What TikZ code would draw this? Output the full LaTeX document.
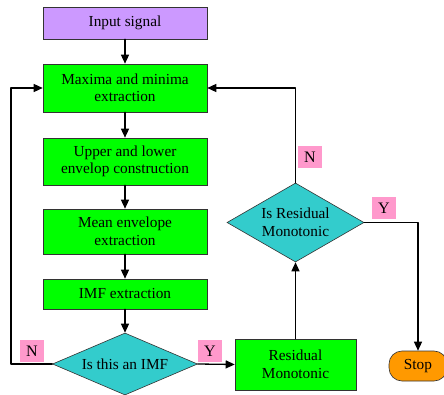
\documentclass[tikz,border=0pt]{standalone}
\usepackage{fontspec}
\setmainfont{Liberation Serif}
\usetikzlibrary{shapes.geometric,arrows.meta}

\definecolor{boxgreen}{HTML}{00FF00}
\definecolor{boxpurple}{HTML}{CC99FF}
\definecolor{boxteal}{HTML}{33CCCC}
\definecolor{boxpink}{HTML}{FF99CC}
\definecolor{boxorange}{HTML}{FF9900}

\tikzset{
  procbox/.style={draw=black!80, line width=0.6pt, fill=boxgreen, minimum width=164pt,
    align=center, inner sep=0pt, font=\fontsize{15.3}{17.5}\selectfont},
  decbox/.style={diamond, draw=black!80, line width=0.6pt, fill=boxteal, align=center,
    inner sep=0pt, font=\fontsize{15.3}{17.5}\selectfont},
  tagbox/.style={fill=boxpink, minimum width=24pt, minimum height=22pt, inner sep=0pt,
    font=\fontsize{16}{18}\selectfont},
  flow/.style={-{Triangle[length=9pt,width=8pt]}, line width=1.3pt, line cap=round, line join=round}
}

\begin{document}
\begin{tikzpicture}[x=1pt,y=-1pt]
      \path[use as bounding box] (0,0) rectangle (444,395);
      \clip (0,0) rectangle (444,395);

      \node[procbox, fill=boxpurple, minimum height=32pt] (input) at (125,23) {Input signal};
      \node[procbox, minimum height=48pt] (maxmin) at (125,88) {Maxima and minima\\extraction};
      \node[procbox, minimum height=47pt] (envel) at (125,161.5) {Upper and lower\\envelop construction};
      \node[procbox, minimum height=45pt] (mean) at (125,231.5) {Mean envelope\\extraction};
      \node[procbox, minimum height=30pt] (imf) at (125,294) {IMF extraction};

      \node[decbox, aspect=2.34, minimum width=145pt, minimum height=62pt] (isimf) at (125,364) {Is this an IMF};
      \node[procbox, minimum width=121pt, minimum height=51pt] (resid) at (295.5,364.5) {Residual\\Monotonic};
      \node[decbox, aspect=1.73, minimum width=137pt, minimum height=79pt] (ismono) at (295.5,222.5) {Is Residual\\Monotonic};
      \node[procbox, fill=boxorange, rounded corners=13pt, minimum width=58pt, minimum height=30pt] (stop) at (418,366) {Stop};

      \node[tagbox] (tagN) at (32,351) {N};
      \node[tagbox] (tagY) at (210,351) {Y};
      \node[tagbox] (tagNN) at (310,157) {N};
      \node[tagbox] (tagYY) at (384,208.5) {Y};

      \coordinate (rail) at (11,88);

      \draw[flow] (input) -- (maxmin);
      \draw[flow] (maxmin) -- (envel);
      \draw[flow] (envel) -- (mean);
      \draw[flow] (mean) -- (imf);
      \draw[flow] (imf) -- (isimf.north);

      \draw[flow] (isimf.west) -| (rail) -- (maxmin.west);
      \draw[flow] (isimf.east) -- (resid.west);
      \draw[flow] (resid.north) -- (ismono.south);
      \draw[flow] (ismono.north) |- (maxmin.east);
      \draw[flow] (ismono.east) -| (stop.north);

    \end{tikzpicture}
\end{document}
